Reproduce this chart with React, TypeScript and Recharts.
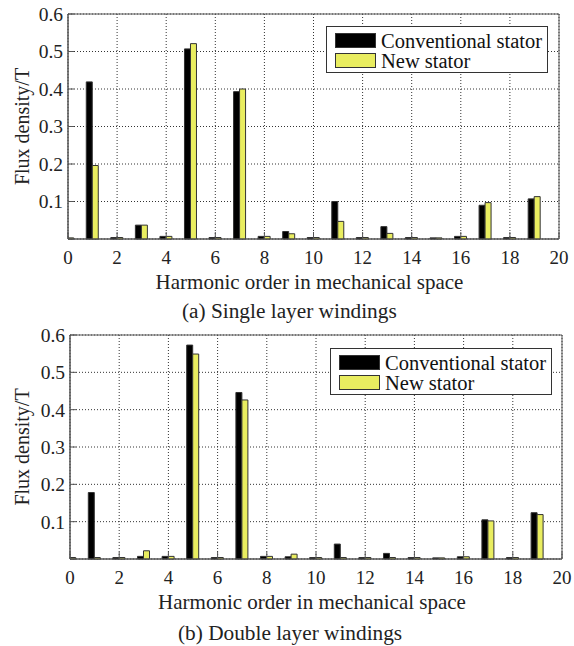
import {
  BarChart,
  Bar,
  XAxis,
  YAxis,
  CartesianGrid,
  Legend,
  ReferenceArea,
} from "recharts";

// Harmonic order 0..19, flux density in T.
const harmonics = [0, 1, 2, 3, 4, 5, 6, 7, 8, 9, 10, 11, 12, 13, 14, 15, 16, 17, 18, 19];
const singleConv = [0.003, 0.419, 0.004, 0.037, 0.007, 0.507, 0.004, 0.393, 0.007, 0.02, 0.004, 0.1, 0.004, 0.033, 0.004, 0.003, 0.007, 0.09, 0.004, 0.107];
const singleNew = [0.003, 0.196, 0.004, 0.037, 0.007, 0.521, 0.004, 0.4, 0.007, 0.014, 0.004, 0.047, 0.004, 0.015, 0.004, 0.003, 0.007, 0.097, 0.004, 0.113];
const doubleConv = [0.003, 0.178, 0.004, 0.007, 0.007, 0.573, 0.004, 0.446, 0.007, 0.006, 0.004, 0.04, 0.004, 0.015, 0.004, 0.003, 0.006, 0.105, 0.004, 0.124];
const doubleNew = [0.004, 0.004, 0.004, 0.022, 0.007, 0.549, 0.004, 0.426, 0.007, 0.013, 0.004, 0.004, 0.004, 0.004, 0.004, 0.003, 0.006, 0.102, 0.004, 0.119];

const xTicks = [0, 2, 4, 6, 8, 10, 12, 14, 16, 18, 20];
const yTicks = [0, 0.1, 0.2, 0.3, 0.4, 0.5, 0.6];
const seriesNames = ["Conventional stator", "New stator"];

const FONT = '"Liberation Serif", "Times New Roman", serif';
const YELLOW = "#e9ed60";
const FRAME = "#555";

function build(conv: number[], nw: number[]) {
  return harmonics.map((h, i) => ({ h, conv: conv[i], nw: nw[i] }));
}

function LegendBox() {
  const swatch = (bg: string) => ({
    position: "absolute" as const,
    left: 8,
    width: 41,
    height: 15,
    background: bg,
    border: "1px solid #333",
    boxSizing: "border-box" as const,
  });
  const text = {
    position: "absolute" as const,
    left: 54,
    fontSize: 20.5,
    lineHeight: "20px",
    whiteSpace: "nowrap" as const,
    color: "#111",
  };
  return (
    <div
      style={{
        position: "relative",
        width: 222,
        height: 47,
        border: "1px solid #333",
        background: "#fff",
        fontFamily: FONT,
        boxSizing: "border-box",
      }}
    >
      <div style={{ ...swatch("#000"), top: 6 }} />
      <div style={{ ...text, top: 4 }}>{seriesNames[0]}</div>
      <div style={{ ...swatch(YELLOW), top: 26 }} />
      <div style={{ ...text, top: 24 }}>{seriesNames[1]}</div>
    </div>
  );
}

function Panel({
  data,
  left,
  right,
  top,
  legendPos,
}: {
  data: { h: number; conv: number; nw: number }[];
  left: number;
  right: number;
  top: number;
  legendPos: { left: number; top: number };
}) {
  return (
    <BarChart
      width={574}
      height={300}
      data={data}
      margin={{ top, right, bottom: 0, left: 0 }}
      barSize={6}
      barGap={0}
      style={{ fontFamily: FONT }}
    >
      <CartesianGrid
        stroke="#333"
        strokeDasharray="1 2"
        horizontalValues={yTicks}
        verticalValues={xTicks}
      />
      <XAxis
        dataKey="h"
        type="number"
        domain={[0, 20]}
        ticks={xTicks}
        allowDataOverflow
        height={61}
        tickSize={-7}
        tickMargin={19}
        stroke={FRAME}
        tick={{ fill: "#222", fontSize: 19, fontFamily: FONT }}
        label={({ viewBox }: any) => (
          <text
            x={viewBox.x + viewBox.width / 2 - 4}
            y={viewBox.y + 50}
            textAnchor="middle"
            fontSize={21}
            fontFamily={FONT}
            fill="#222"
          >
            Harmonic order in mechanical space
          </text>
        )}
      />
      <YAxis
        type="number"
        domain={[0, 0.6]}
        ticks={yTicks}
        width={left}
        tickSize={-6}
        tickMargin={11}
        stroke={FRAME}
        tickFormatter={(v: number) => (v === 0 ? "" : String(v))}
        tick={{ fill: "#222", fontSize: 19.5, fontFamily: FONT }}
        label={({ viewBox }: any) => {
          const cy = viewBox.y + viewBox.height / 2;
          return (
            <text
              x={22}
              y={cy}
              transform={`rotate(-90, 22, ${cy})`}
              textAnchor="middle"
              dominantBaseline="central"
              fontSize={20}
              fontFamily={FONT}
              fill="#222"
            >
              Flux density/T
            </text>
          );
        }}
      />
      <Bar dataKey="conv" name={seriesNames[0]} fill="#000" stroke="#333" isAnimationActive={false} />
      <Bar dataKey="nw" name={seriesNames[1]} fill={YELLOW} stroke="#333" isAnimationActive={false} />
      <ReferenceArea x1={0} x2={20} y1={0} y2={0.6} fill="none" stroke={FRAME} strokeOpacity={1} fillOpacity={0} />
      <Legend
        layout="horizontal"
        align="center"
        verticalAlign="middle"
        wrapperStyle={{ position: "absolute", left: legendPos.left, top: legendPos.top, width: "auto" }}
        content={() => <LegendBox />}
      />
    </BarChart>
  );
}

const caption = {
  position: "absolute" as const,
  fontFamily: FONT,
  fontSize: 21.3,
  lineHeight: "22px",
  color: "#222",
  whiteSpace: "nowrap" as const,
};

export default function App() {
  return (
    <div style={{ position: "absolute", left: 0, top: 0, width: 574, height: 646, background: "#fff" }}>
      <div style={{ position: "absolute", left: 0, top: 0 }}>
        <Panel data={build(singleConv, singleNew)} left={68} right={15} top={14} legendPos={{ left: 326, top: 26 }} />
      </div>
      <div style={{ ...caption, left: 182, top: 300 }}>(a) Single layer windings</div>
      <div style={{ position: "absolute", left: 0, top: 320 }}>
        <Panel data={build(doubleConv, doubleNew)} left={70} right={12} top={15} legendPos={{ left: 330, top: 28 }} />
      </div>
      <div style={{ ...caption, left: 178, top: 622 }}>(b) Double layer windings</div>
    </div>
  );
}
